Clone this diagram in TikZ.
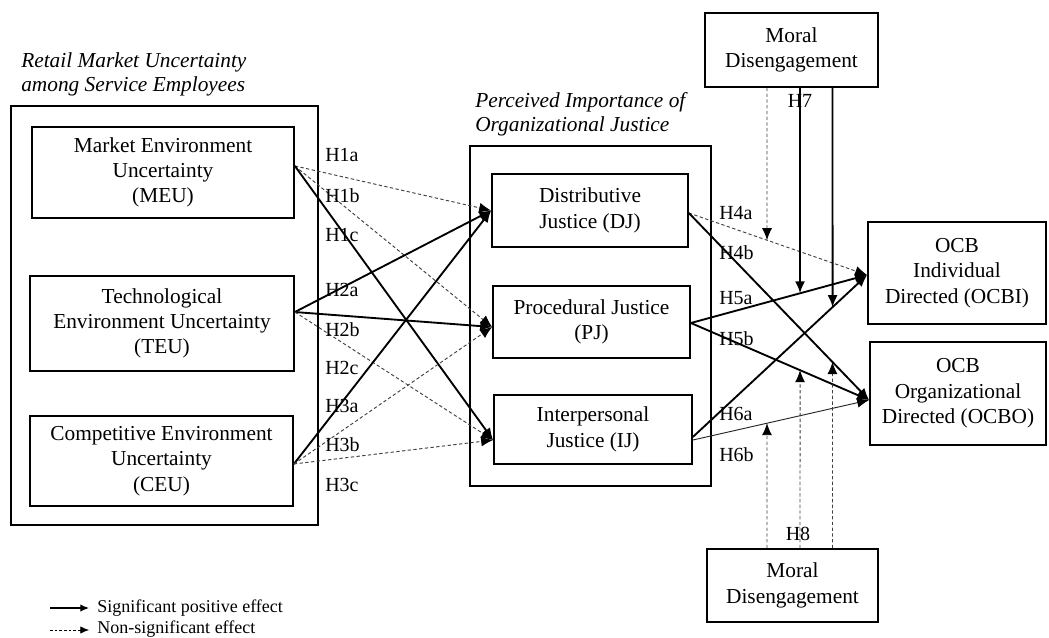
\documentclass[tikz,border=0pt]{standalone}
\usepackage{fontspec}
\setmainfont{Liberation Serif}
\usetikzlibrary{arrows.meta}
\begin{document}
\begin{tikzpicture}[x=0.75pt,y=-0.75pt,
  box/.style={draw, line width=1.3pt, align=center, inner sep=0pt, font=\fontsize{16}{19}\selectfont},
  frame/.style={draw, line width=1.3pt, inner sep=0pt},
  ttl/.style={align=left, anchor=north west, inner sep=0pt, font=\fontsize{16}{18.5}\selectfont\itshape},
  hl/.style={inner sep=0pt, font=\fontsize{15}{17}\selectfont},
  leg/.style={inner sep=0pt, anchor=west, font=\fontsize{13.5}{15}\selectfont},
  sig/.style={line width=1.4pt, -{Latex[length=9pt,width=7.5pt]}},
  nsig/.style={line width=0.7pt, draw=black!75, dash pattern=on 2.5pt off 1.8pt, -{Latex[length=9pt,width=7.5pt,color=black]}},
  weak/.style={line width=0.7pt, draw=black!85, -{Latex[length=9pt,width=7.5pt,color=black]}},
  legsig/.style={line width=0.8pt, -{Latex[length=6.5pt,width=5.5pt]}},
  legns/.style={line width=0.6pt, dash pattern=on 2pt off 1.5pt, -{Latex[length=6.5pt,width=5.5pt]}},
]
\useasboundingbox (0,0) rectangle (1049,638);

% titles
\node[ttl] (t1) at (21,52) {Retail Market Uncertainty\\among Service Employees};
\node[ttl] (t2) at (475,92) {Perceived Importance of\\Organizational Justice};

% group frames
\node[frame, minimum width=230.25pt, minimum height=314.25pt] (grpL) at (164.5,315.5) {};
\node[frame, minimum width=180.75pt, minimum height=255pt] (grpM) at (590.5,316) {};

% boxes
\node[box, minimum width=196.5pt, minimum height=68.25pt] (meu) at (163,172.5) {Market Environment\\Uncertainty\\(MEU)};
\node[box, minimum width=198pt, minimum height=71.25pt] (teu) at (162,323.5) {Technological\\Environment Uncertainty\\(TEU)};
\node[box, minimum width=197.25pt, minimum height=67.5pt] (ceu) at (161.5,461) {Competitive Environment\\Uncertainty\\(CEU)};

\node[box, minimum width=147pt, minimum height=54.75pt] (dj) at (590,210.5) {Distributive\\Justice (DJ)};
\node[box, minimum width=147.75pt, minimum height=54pt] (pj) at (591.5,322) {Procedural Justice\\(PJ)};
\node[box, minimum width=148.5pt, minimum height=51.75pt] (ij) at (593,429.5) {Interpersonal\\Justice (IJ)};

\node[box, minimum width=129.75pt, minimum height=55.5pt] (md1) at (791.5,50) {Moral\\Disengagement};
\node[box, minimum width=128.25pt, minimum height=54.75pt] (md2) at (792.5,585.5) {Moral\\Disengagement};

\node[box, minimum width=133.5pt, minimum height=76.5pt] (ocbi) at (957,273) {OCB\\Individual\\Directed (OCBI)};
\node[box, minimum width=132pt, minimum height=77.25pt] (ocbo) at (958,393.5) {OCB\\Organizational\\Directed (OCBO)};

% connector end points
\coordinate (meuO) at ([yshift=4.9pt]meu.east);
\coordinate (teuO) at ([yshift=8.6pt]teu.east);
\coordinate (ceuO) at ([yshift=-2.25pt]ceu.east);
\coordinate (djI) at (dj.west);
\coordinate (pjI) at ([yshift=-3.75pt]pj.west);
\coordinate (ijI) at ([yshift=-7.9pt]ij.west);
\coordinate (djO) at ([yshift=-1.9pt]dj.east);
\coordinate (pjO) at ([yshift=-0.75pt]pj.east);
\coordinate (ijO1) at ([yshift=-5.6pt]ij.east);
\coordinate (ijO2) at ([yshift=-7.9pt]ij.east);
\coordinate (ocbiI) at ([yshift=-1.5pt]ocbi.west);
\coordinate (ocboI) at ([yshift=-4.9pt]ocbo.west);

% left connectors
\draw[nsig] (meuO) -- (djI);
\draw[nsig] (meuO) -- (pjI);
\draw[sig] (meuO) -- (ijI);
\draw[sig] (teuO) -- (djI);
\draw[sig] (teuO) -- (pjI);
\draw[nsig] (teuO) -- (ijI);
\draw[sig] (ceuO) -- (djI);
\draw[nsig] (ceuO) -- (pjI);
\draw[nsig] (ceuO) -- (ijI);

% right connectors
\draw[nsig] (djO) -- (ocbiI);
\draw[sig] (djO) -- (ocboI);
\draw[sig] (pjO) -- (ocbiI);
\draw[sig] (pjO) -- (ocboI);
\draw[sig] (ijO1) -- (ocbiI);
\draw[weak] (ijO2) -- (ocboI);

% moderator columns
\coordinate (c1) at (767,0);   \coordinate (c1b) at (767,638);
\coordinate (c2) at (800,0);   \coordinate (c2b) at (800,638);
\coordinate (c3) at (832.5,0); \coordinate (c3b) at (832.5,638);

\draw[nsig] (md1.south -| c1) -- (intersection of c1--c1b and djO--ocbiI);
\draw[sig] (md1.south -| c2) -- (intersection of c2--c2b and pjO--ocbiI);
\draw[sig] (md1.south -| c3) -- (intersection of c3--c3b and ijO1--ocbiI);

\draw[nsig] (md2.north -| c1) -- (intersection of c1--c1b and ijO2--ocboI);
\draw[nsig] (md2.north -| c2) -- (intersection of c2--c2b and pjO--ocboI);
\draw[nsig] (md2.north -| c3) -- (intersection of c3--c3b and djO--ocboI);

% hypothesis labels
\node[hl, anchor=west] (h1a) at (325,155) {H1a};
\node[hl, anchor=west] (h1b) at (325,196) {H1b};
\node[hl, anchor=west] (h1c) at (325,235) {H1c};
\node[hl, anchor=west] (h2a) at (325,290) {H2a};
\node[hl, anchor=west] (h2b) at (325,330) {H2b};
\node[hl, anchor=west] (h2c) at (325,368) {H2c};
\node[hl, anchor=west] (h3a) at (325,406) {H3a};
\node[hl, anchor=west] (h3b) at (325,445) {H3b};
\node[hl, anchor=west] (h3c) at (325,485) {H3c};

\node[hl, anchor=west] (h4a) at (719,213) {H4a};
\node[hl, anchor=west] (h4b) at (719,253) {H4b};
\node[hl, anchor=west] (h5a) at (719,298) {H5a};
\node[hl, anchor=west] (h5b) at (719,339) {H5b};
\node[hl, anchor=west] (h6a) at (719,414) {H6a};
\node[hl, anchor=west] (h6b) at (719,455) {H6b};
\node[hl] (h7) at (800,101) {H7};
\node[hl] (h8) at (798,534) {H8};

% legend
\coordinate (l1a) at (50,608); \coordinate (l1b) at (89,608);
\coordinate (l2a) at (50,630); \coordinate (l2b) at (89,630);
\draw[legsig] (l1a) -- (l1b);
\draw[legns] (l2a) -- (l2b);
\node[leg] (lt1) at (97,608) {Significant positive effect};
\node[leg] (lt2) at (97,629) {Non-significant effect};
\end{tikzpicture}
\end{document}
